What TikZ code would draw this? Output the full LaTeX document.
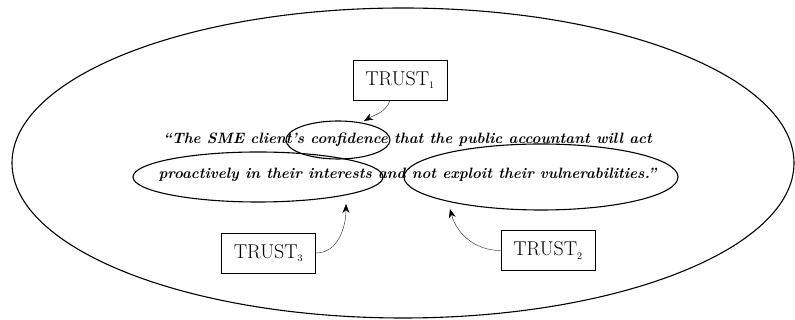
\documentclass[tikz,border=0pt]{standalone}
\usepackage{amssymb, amsmath}
\usepackage{xcolor}
\usetikzlibrary{arrows.meta, shapes.geometric}

\begin{document}
\begin{tikzpicture}[x=1pt, y=1pt]
\tikzstyle{every node}=[font=\fontsize{20}{22}\selectfont]
\tikzstyle{trustbox}=[draw, line width=0.9pt, minimum width=94pt, minimum height=40pt, inner sep=0pt]
\tikzstyle{ring}=[draw, ellipse, line width=1.1pt, inner sep=0pt]
\tikzstyle{quote}=[font=\fontsize{15}{18}\bfseries\itshape\selectfont, inner sep=0pt]
\tikzstyle{link}=[-{Stealth[length=9pt, width=7pt, color=black]}, line width=0.5pt, black!75]

\useasboundingbox (0, 0) rectangle (795, 320);

\node[ring, minimum width=782pt, minimum height=310pt] (outer) at (403, 157) {};

% the definition
\node[quote] (line1) at (407.5, 180) {``The SME client's confidence that the public accountant will act};
\node[quote] (line2) at (407.5, 145) {proactively in their interests and not exploit their vulnerabilities.''};

\node[ring, minimum width=104pt, minimum height=38pt] (conf) at (338, 180) {};
\node[ring, minimum width=250pt, minimum height=50pt] (proact) at (258, 143) {};
\node[ring, minimum width=274pt, minimum height=66pt] (vuln) at (541, 143) {};

\node[trustbox] (trust1) at (400, 240) {TRUST$_{\scriptscriptstyle 1}$};
\node[trustbox] (trust3) at (268.5, 67) {TRUST$_{\scriptscriptstyle 3}$};
\node[trustbox] (trust2) at (548, 69.5) {TRUST$_{\scriptscriptstyle 2}$};

\coordinate (tip1) at (364, 199);
\coordinate (tip3) at (346, 116);
\coordinate (tip2) at (450, 111);

\draw[link] ([xshift=-10pt]trust1.south) to[out=-110, in=30] (tip1); % TRUST1
\draw[link] (trust3.east) to[out=0, in=-90] (tip3); % TRUST3
\draw[link] (trust2.west) to[out=180, in=-75] (tip2); % TRUST2

\end{tikzpicture}
\end{document}
